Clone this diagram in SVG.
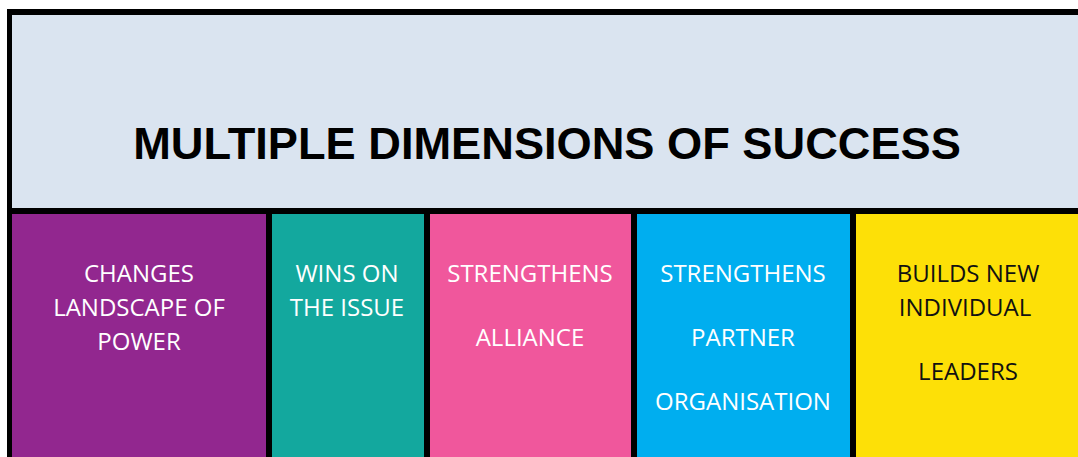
<svg xmlns="http://www.w3.org/2000/svg" width="1078" height="457" viewBox="0 0 1078 457">
<style>
.lbl{font-family:"Open Sans","Noto Sans","Liberation Sans",sans-serif;font-size:24px;text-anchor:middle;fill:#ffffff}
.dark{fill:#111111}
.title{font-family:"Liberation Sans",Arial,sans-serif;font-weight:bold;font-size:45.2px;text-anchor:middle;fill:#000000}
</style>
<rect x="0" y="0" width="1078" height="457" fill="#ffffff"/>
<g id="header">
<rect x="7" y="9" width="1071" height="205" fill="#000000"/>
<rect x="12" y="15" width="1066" height="193" fill="#DAE4F0"/>
<text class="title" x="547" y="159">MULTIPLE DIMENSIONS OF SUCCESS</text>
</g>
<g id="frame">
<rect x="7" y="214" width="1071" height="243" fill="#000000"/>
</g>
<g id="col1">
<rect x="12" y="214" width="254" height="243" fill="#92278F"/>
<text class="lbl" x="139" y="282">CHANGES</text>
<text class="lbl" x="139" y="316">LANDSCAPE OF</text>
<text class="lbl" x="139" y="350">POWER</text>
</g>
<g id="col2">
<rect x="272" y="214" width="152" height="243" fill="#13A89E"/>
<text class="lbl" x="347" y="282">WINS ON</text>
<text class="lbl" x="347" y="316">THE ISSUE</text>
</g>
<g id="col3">
<rect x="430" y="214" width="201" height="243" fill="#F0579C"/>
<text class="lbl" x="530" y="282">STRENGTHENS</text>
<text class="lbl" x="530" y="346">ALLIANCE</text>
</g>
<g id="col4">
<rect x="637" y="214" width="213" height="243" fill="#00AEEF"/>
<text class="lbl" x="743" y="282">STRENGTHENS</text>
<text class="lbl" x="743" y="346">PARTNER</text>
<text class="lbl" x="743" y="410">ORGANISATION</text>
</g>
<g id="col5">
<rect x="856" y="214" width="222" height="243" fill="#FDE007"/>
<text class="lbl dark" x="968" y="282">BUILDS NEW</text>
<text class="lbl dark" x="965" y="316">INDIVIDUAL</text>
<text class="lbl dark" x="968" y="380">LEADERS</text>
</g>
<g id="connectors"></g>
</svg>
